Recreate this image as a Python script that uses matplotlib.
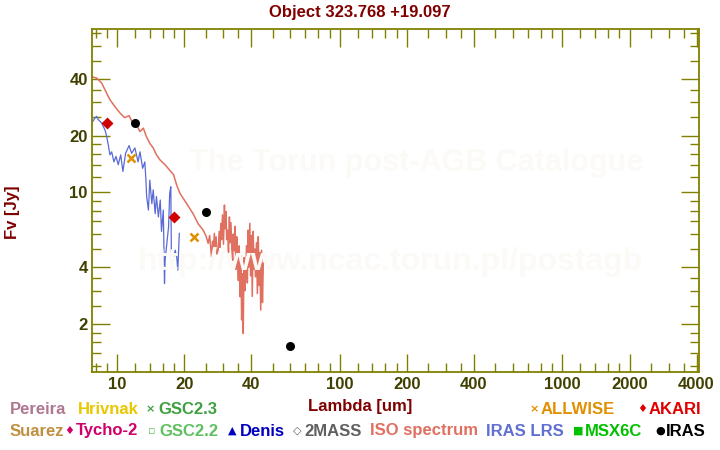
import numpy as np
import matplotlib
matplotlib.use('Agg')
import matplotlib.pyplot as plt
from matplotlib.ticker import FixedLocator, NullFormatter

plt.rcParams['font.family'] = ['Liberation Sans', 'DejaVu Sans']
plt.rcParams['font.weight'] = 'bold'

# ISO spectrum (um, Jy)
iso_wl = [7.75, 8.08, 8.51, 8.96, 9.27, 9.76, 10.3, 10.8, 11.3, 11.6, 12.2, 12.65,
          13.1, 13.5, 14.0, 14.5, 15.0, 15.6, 16.4, 17.2, 17.9, 18.5, 19.1, 20.5,
          21.9, 23.1, 24.3, 25.0, 25.6, 26.0, 26.5, 26.8, 27.0, 27.3, 27.5, 27.8,
          28.0, 28.4, 28.7, 28.9, 29.2, 29.4, 29.7, 30.0, 30.3, 30.5, 30.8, 31.0,
          31.3, 31.6, 31.9, 32.1, 32.4, 32.7, 33.0, 33.2, 33.5, 33.8, 34.1, 34.4,
          34.7, 35.0, 35.3, 35.6, 35.9, 36.2, 36.5, 36.8, 37.1, 37.4, 37.8, 38.1,
          38.4, 38.7, 39.0, 39.4, 39.7, 40.1, 40.4, 40.8, 41.1, 41.5, 41.8, 42.2,
          42.6, 43.0, 43.3, 43.7, 44.1, 44.5, 44.9, 45.3]
iso_fl = [40.9, 40.4, 38.0, 33.6, 31.0, 28.5, 26.3, 24.9, 25.5, 23.9, 22.8, 21.0,
          21.9, 19.8, 18.2, 17.2, 15.8, 14.8, 14.0, 13.1, 12.4, 10.9, 9.9, 8.7,
          7.7, 6.8, 6.3, 5.9, 5.36, 5.9, 4.54, 5.5, 4.9, 6.05, 5.0, 5.8,
          4.7, 4.93, 6.2, 5.1, 6.84, 5.6, 7.6, 5.3, 8.56, 6.4, 7.9, 5.6,
          6.3, 4.8, 7.4, 5.4, 6.9, 5.0, 4.36, 6.0, 4.9, 6.6, 3.9, 5.81,
          4.4, 3.4, 5.2, 2.79, 4.6, 2.1, 3.7, 1.78, 4.5, 3.0, 3.86, 5.2,
          3.3, 6.3, 4.0, 6.84, 3.6, 5.9, 2.8, 6.2, 3.9, 5.0, 3.56, 5.4,
          2.9, 5.81, 3.2, 4.8, 2.37, 4.93, 2.6, 4.2]

# IRAS LRS spectrum
lrs_wl = [7.75, 7.94, 8.08, 8.22, 8.51, 8.81, 8.96, 9.11, 9.27, 9.44, 9.66, 9.87,
          10.1, 10.36, 10.6, 10.9, 11.3, 11.6, 12.0, 12.4, 12.65, 13.0, 13.3, 13.45,
          13.55, 13.8, 14.0, 14.3, 14.5, 14.8, 15.0, 15.3, 15.6, 15.8, 16.1, 16.3,
          16.4, 16.7, 17.0, 17.2, 17.4, 17.5, 17.9, 18.2, 18.5, 18.7, 19.0]
lrs_fl = [23.7, 24.8, 25.3, 24.3, 23.3, 21.4, 19.8, 17.9, 15.8, 16.4, 14.5, 15.5,
          14.0, 15.8, 12.9, 16.1, 17.7, 16.1, 17.2, 14.5, 16.4, 13.4, 14.5, 11.6,
          9.5, 8.05, 11.6, 8.7, 10.3, 7.7, 9.5, 7.4, 9.1, 6.2, 8.05, 3.28,
          4.36, 5.36, 6.56, 9.9, 10.7, 4.74, 4.54, 4.93, 4.54, 3.86, 6.05]

# photometry
akari_wl = [9.0, 18.0]
akari_fl = [23.4, 7.4]
iras_wl = [12.0, 25.0, 60.0]
iras_fl = [23.4, 7.85, 1.52]
wise_wl = [11.56, 22.1]
wise_fl = [15.2, 5.78]

x_major = [10, 20, 40, 100, 200, 400, 1000, 2000, 4000]
y_major = [2, 4, 10, 20, 40]
minor_mult = [1.2, 1.4, 1.6, 1.8, 2.5, 3, 3.5, 5, 6, 7, 8, 9]

olive = '#808000'
label_col = '#404000'
dark_red = '#800000'

fig = plt.figure(figsize=(7.2, 4.5), dpi=100)
ax = fig.add_axes([92 / 720, 1 - 371.5 / 450, 607 / 720, 342.2 / 450])

fig.text(416 / 720, 1 - 163 / 450, 'The Torun post-AGB Catalogue', color='#fcfaf7',
         fontsize=22, ha='center', va='center', zorder=0)
fig.text(390 / 720, 1 - 262 / 450, 'http://www.ncac.torun.pl/postagb', color='#fcfaf7',
         fontsize=23, ha='center', va='center', zorder=0)
ax.patch.set_alpha(0)

ax.plot(iso_wl, iso_fl, color='#e07060', lw=1.1)
ax.plot(lrs_wl, lrs_fl, color='#5a6ad4', lw=0.9)
ax.plot(akari_wl, akari_fl, 'D', color='#d00000', ms=6, mec='none')
ax.plot(iras_wl, iras_fl, 'o', color='black', ms=6.5, mec='none')
ax.plot(wise_wl, wise_fl, 'x', color='#e09000', ms=6, mew=1.8)

ax.set_xscale('log')
ax.set_yscale('log')
ax.set_xlim(7.70, 4104)
ax.set_ylim(1.119, 73.3)

x_minor = [m * d for d in [1, 10, 100, 1000] for m in minor_mult if 7.7 < m * d < 4104]
y_minor = [m * d for d in [1, 10] for m in minor_mult if 1.119 < m * d < 73.3]
ax.xaxis.set_major_locator(FixedLocator(x_major))
ax.xaxis.set_minor_locator(FixedLocator(x_minor))
ax.yaxis.set_major_locator(FixedLocator(y_major))
ax.yaxis.set_minor_locator(FixedLocator(y_minor))
ax.set_xticklabels([str(v) for v in x_major])
ax.set_yticklabels([str(v) for v in y_major])
ax.xaxis.set_minor_formatter(NullFormatter())
ax.yaxis.set_minor_formatter(NullFormatter())

ax.tick_params(which='both', direction='in', top=True, right=True, color=olive,
               labelcolor=label_col, labelsize=12)
ax.tick_params(which='major', length=13, width=1.0)
ax.tick_params(which='minor', length=6.5, width=1.0)
ax.tick_params(axis='x', which='major', pad=4)
ax.tick_params(axis='y', which='major', pad=3)
for s in ax.spines.values():
    s.set_color(olive)
    s.set_linewidth(1.3)

fig.text(0.5, 1 - 12 / 450, 'Object 323.768 +19.097', color=dark_red, fontsize=12,
         ha='center', va='center')
fig.text(0.5, 1 - 406 / 450, 'Lambda [um]', color=dark_red, fontsize=12,
         ha='center', va='center')
fig.text(13 / 720, 1 - 212 / 450, 'Fv [Jy]', color=dark_red, fontsize=12,
         ha='center', va='center', rotation=90)

# legend rows: (symbol x px, symbol, text x px, text, colour)
row1 = [(None, '', 10, 'Pereira', '#b07890'), (None, '', 78, 'Hrivnak', '#e8c800'),
        (146, '×', 158, 'GSC2.3', '#40a040'), (530, '×', 541, 'ALLWISE', '#e09000'),
        (637, '♦', 649, 'AKARI', '#e00000')]
row2 = [(None, '', 10, 'Suarez', '#c09040'), (64.5, '♦', 76, 'Tycho-2', '#d0006a'),
        (148, '▫', 159, 'GSC2.2', '#60c060'), (228, '▲', 240, 'Denis', '#0000c0'),
        (293, '◇', 304, '2MASS', '#606060'), (None, '', 370, 'ISO spectrum', '#e07060'),
        (None, '', 486, 'IRAS LRS', '#6070d0'), (573, '■', 585, 'MSX6C', '#00c000'),
        (655, '●', 666, 'IRAS', '#000000')]
for y, row in [(409, row1), (431, row2)]:
    for sx, sym, tx, txt, col in row:
        if sx is not None:
            fig.text(sx / 720, 1 - y / 450, sym, color=col, fontsize=8,
                     family=['DejaVu Sans'], ha='left', va='center')
        fig.text(tx / 720, 1 - y / 450, txt, color=col, fontsize=12,
                 ha='left', va='center')

fig.savefig('out.png', dpi=100)
